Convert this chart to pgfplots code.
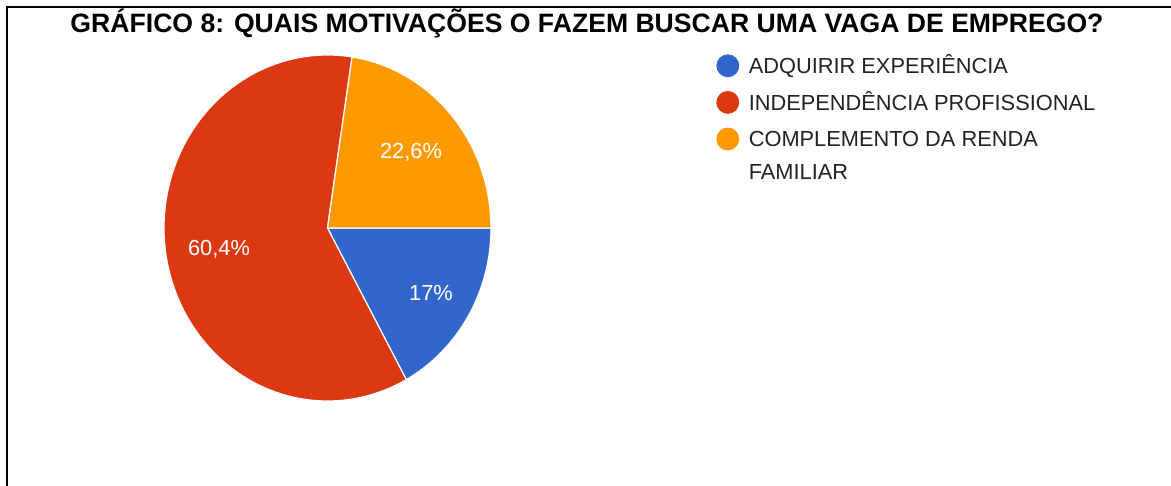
\documentclass[border=0pt]{standalone}
\usepackage{pgfplots}
\pgfplotsset{compat=1.18}
\usepackage{pgfplotstable}
\usepackage{fontspec}
\setmainfont{Liberation Sans}
\definecolor{gblue}{HTML}{3366CC}
\definecolor{gred}{HTML}{DC3912}
\definecolor{gorange}{HTML}{FF9900}
\definecolor{legtext}{HTML}{222222}

\pgfplotstableread{
label value
Adquirir 17.0
Independencia 60.4
Complemento 22.6
}\piedata
\def\cx{327.5}
\def\cy{258}
\def\rx{163.5}
\def\ry{173}

\begin{document}
\begin{tikzpicture}
\pgfplotstablegetelem{0}{value}\of\piedata \let\va\pgfplotsretval
\pgfplotstablegetelem{1}{value}\of\piedata \let\vb\pgfplotsretval
\pgfplotstablegetelem{2}{value}\of\piedata \let\vc\pgfplotsretval
\pgfmathsetmacro\aA{0}
\pgfmathsetmacro\aB{-3.6*\va}
\pgfmathsetmacro\aC{\aB-3.6*\vb}
\pgfmathsetmacro\aD{\aC-3.6*\vc}
\useasboundingbox (0,0) rectangle (585.5pt,243pt);
\begin{axis}[
  at={(0,0)}, anchor=south west,
  scale only axis, width=585.5pt, height=243pt,
  xmin=0, xmax=1171, ymin=0, ymax=486,
  hide axis, clip=false,
  legend cell align=left,
  legend style={at={(axis cs:716,432)}, anchor=north west, draw=none, fill=none,
    inner sep=0pt, row sep=6.9pt, column sep=4.8pt,
    font=\fontsize{10.9pt}{13pt}\selectfont, text=legtext,
    nodes={inner sep=0pt, text height=7.8pt, text depth=0pt}},
]
\addlegendimage{legend image code/.code={\fill[gblue] (5.5pt,0pt) circle (5.5pt);}}
\addlegendentry{ADQUIRIR EXPERIÊNCIA}
\addlegendimage{legend image code/.code={\fill[gred] (5.5pt,0pt) circle (5.5pt);}}
\addlegendentry{INDEPENDÊNCIA PROFISSIONAL}
\addlegendimage{legend image code/.code={\fill[gorange] (5.5pt,0pt) circle (5.5pt);}}
\addlegendentry{COMPLEMENTO DA RENDA}
\addlegendimage{empty legend}
\addlegendentry[yshift=3pt]{FAMILIAR}

\addplot[forget plot, fill=gblue, draw=white, line width=0.6pt, domain=\aB:\aA, samples=80, variable=\t]
  ({\cx+\rx*cos(\t)},{\cy+\ry*sin(\t)}) -- (axis cs:\cx,\cy) -- cycle;
\addplot[forget plot, fill=gred, draw=white, line width=0.6pt, domain=\aC:\aB, samples=150, variable=\t]
  ({\cx+\rx*cos(\t)},{\cy+\ry*sin(\t)}) -- (axis cs:\cx,\cy) -- cycle;
\addplot[forget plot, fill=gorange, draw=white, line width=0.6pt, domain=\aD:\aC, samples=80, variable=\t]
  ({\cx+\rx*cos(\t)},{\cy+\ry*sin(\t)}) -- (axis cs:\cx,\cy) -- cycle;

\node[text=white, font=\fontsize{10.9pt}{13pt}\selectfont] at (axis cs:411,334) {22,6\%};
\node[text=white, font=\fontsize{10.9pt}{13pt}\selectfont] at (axis cs:219,237) {60,4\%};
\node[text=white, font=\fontsize{10.9pt}{13pt}\selectfont] at (axis cs:431,193) {17\%};

\node[font=\bfseries\fontsize{13.3pt}{15pt}\selectfont] at (axis cs:587,462.5) {GRÁFICO 8: QUAIS MOTIVAÇÕES O FAZEM BUSCAR UMA VAGA DE EMPREGO?};

\draw[line width=1.4pt] (axis cs:7,0) -- (axis cs:7,479) -- (axis cs:1171,479);
\end{axis}
\end{tikzpicture}
\end{document}
